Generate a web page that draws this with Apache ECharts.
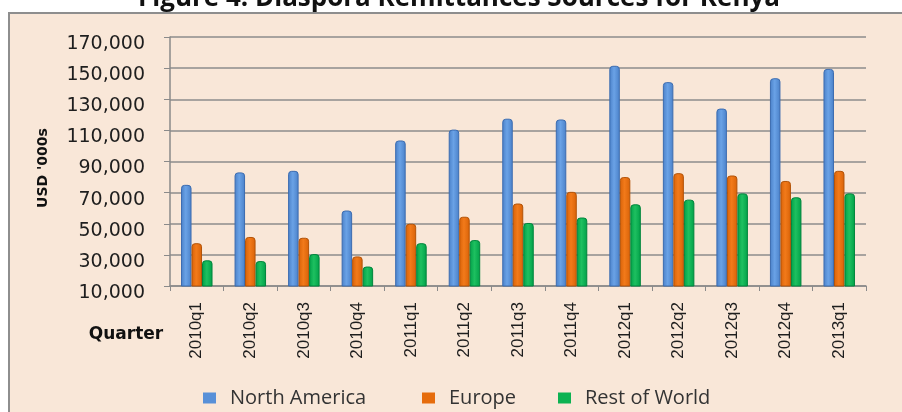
<!DOCTYPE html>
<html>
<head>
<meta charset="utf-8">
<script src="https://cdn.jsdelivr.net/npm/echarts@6/dist/echarts.min.js"></script>
<style>
html,body{margin:0;padding:0;background:#ffffff;}
#chart{width:902px;height:412px;}
</style>
</head>
<body>
<div id="chart"></div>
<script>
var titleText = 'Figure 4: Diaspora Remittances Sources for Kenya';
var categories = ['2010q1','2010q2','2010q3','2010q4','2011q1','2011q2','2011q3','2011q4','2012q1','2012q2','2012q3','2012q4','2013q1'];
var northAmerica = [75000, 83000, 84000, 58500, 103500, 110500, 117500, 117000, 151500, 141000, 124000, 143500, 149500];
var europe = [37500, 41500, 41000, 29000, 50000, 54500, 63000, 70500, 80000, 82500, 81000, 77500, 84000];
var restOfWorld = [26500, 26000, 30500, 22500, 37500, 39500, 50500, 54000, 62500, 65500, 69500, 67000, 69500];
var seriesNames = ['North America', 'Europe', 'Rest of World'];
var yAxisName = "USD '000s";
var xAxisName = 'Quarter';

var chart = echarts.init(document.getElementById('chart'), null, {renderer: 'canvas'});

var labelColor = '#1e1e1e';
var legendText = {fontFamily: 'Open Sans', fontSize: 20, color: '#333333', padding: [0, 0, 0, 9]};

function grad(edge, mid) {
  return new echarts.graphic.LinearGradient(0, 0, 1, 0, [
    {offset: 0, color: edge},
    {offset: 0.45, color: mid},
    {offset: 1, color: edge}
  ]);
}

function barSeries(name, data, edge, mid, border) {
  return {
    name: name,
    type: 'bar',
    data: data,
    barWidth: 10.5,
    barGap: '0%',
    itemStyle: {color: grad(edge, mid), borderColor: border, borderWidth: 1, borderRadius: [3, 3, 0, 0]}
  };
}

function legendItem(left, name, color) {
  return {
    left: left, top: 388, padding: 0,
    itemWidth: 13, itemHeight: 11, icon: 'rect',
    data: [{name: name, itemStyle: {color: color, borderWidth: 0}}],
    textStyle: legendText
  };
}

chart.setOption({
  animation: false,
  backgroundColor: '#ffffff',
  graphic: [
    {
      type: 'rect', z: -100, silent: true,
      shape: {x: 9, y: 13, width: 905, height: 410},
      style: {fill: '#f9e7d8', stroke: '#8e8e8e', lineWidth: 2}
    },
    {
      type: 'text', z: 100, silent: true,
      x: 459, y: -1.5,
      style: {text: titleText, font: 'bold 26px "Open Sans"', fill: '#111111', align: 'center', verticalAlign: 'middle'}
    },
    {
      type: 'text', z: 100, silent: true,
      x: 126, y: 335,
      style: {text: xAxisName, font: 'bold 17px "DejaVu Sans"', fill: '#111111', align: 'center', verticalAlign: 'middle'}
    }
  ],
  legend: [
    legendItem(203, seriesNames[0], '#5890d8'),
    legendItem(422, seriesNames[1], '#e66c0c'),
    legendItem(558, seriesNames[2], '#0db252')
  ],
  grid: {left: 170, right: 36, top: 37, bottom: 126, containLabel: false},
  xAxis: {
    type: 'category',
    data: categories,
    axisLine: {show: true, lineStyle: {color: '#8a8a8a', width: 1.5}},
    axisTick: {show: true, length: 5, lineStyle: {color: '#8a8a8a'}},
    axisLabel: {rotate: 90, margin: 16, fontFamily: 'Liberation Sans', fontSize: 17, color: labelColor, interval: 0}
  },
  yAxis: {
    type: 'value',
    min: 10000,
    max: 170000,
    interval: 20000,
    name: yAxisName,
    nameLocation: 'middle',
    nameRotate: 90,
    nameGap: 120,
    nameTextStyle: {fontFamily: 'DejaVu Sans', fontWeight: 'bold', fontSize: 14, color: '#111111', padding: [0, 13, 0, 0]},
    axisLine: {show: true, lineStyle: {color: '#8a8a8a', width: 1.5}},
    axisTick: {show: true, length: 6, lineStyle: {color: '#8a8a8a'}},
    axisLabel: {
      margin: 25,
      fontFamily: 'DejaVu Sans', fontSize: 19, color: labelColor,
      verticalAlign: 'top',
      lineHeight: 14,
      formatter: function (v) { return v.toLocaleString('en-US'); }
    },
    splitLine: {show: true, lineStyle: {color: '#8c8c8c', width: 1.6}}
  },
  series: [
    barSeries(seriesNames[0], northAmerica, '#4a80c8', '#6aa2e6', '#3c6cb0'),
    barSeries(seriesNames[1], europe, '#d86208', '#f27a1a', '#b35308'),
    barSeries(seriesNames[2], restOfWorld, '#00a048', '#1ec060', '#00853c')
  ]
});
</script>
</body>
</html>
